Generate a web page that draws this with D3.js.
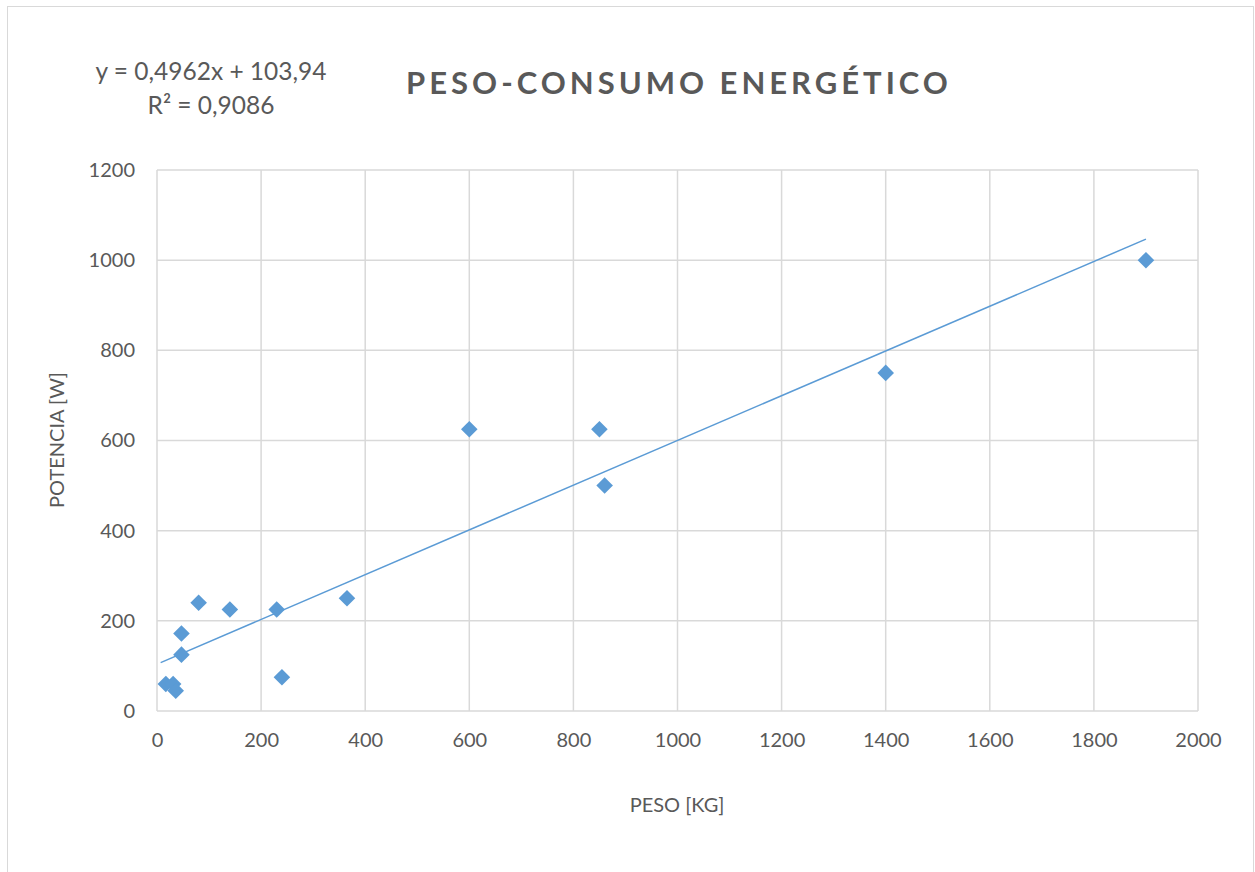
<!DOCTYPE html>
<html>
<head>
  <meta charset="utf-8">
  <script src="https://d3js.org/d3.v7.min.js"></script>
  <style>
    body { margin: 0; background: #fff; }
    svg text { font-family: Lato, "Open Sans", sans-serif; fill: #595959; }
    .grid line { stroke: #d9d9d9; stroke-width: 1.5px; }
    .tick text { font-size: 20px; }
  </style>
</head>
<body>
<svg id="chart" width="1255" height="872"></svg>
<script>
  // data
  var peso = [17, 31, 36, 47, 47, 80, 140, 230, 240, 365, 600, 850, 860, 1400, 1900];
  var potencia = [60, 60, 45, 125, 172, 240, 225, 225, 75, 250, 625, 625, 500, 750, 1000];
  var xTicks = [0, 200, 400, 600, 800, 1000, 1200, 1400, 1600, 1800, 2000];
  var yTicks = [0, 200, 400, 600, 800, 1000, 1200];
  var trendSlope = 0.4962, trendIntercept = 103.94;
  var trendRange = [7, 1900];

  var svg = d3.select("#chart");
  var plot = {left: 157, right: 1198, top: 170, bottom: 711};

  var x = d3.scaleLinear().domain([0, 2000]).range([plot.left, plot.right]);
  var y = d3.scaleLinear().domain([0, 1200]).range([plot.bottom, plot.top]);

  // outer chart border
  svg.append("rect")
      .attr("x", 7.5).attr("y", 6.5)
      .attr("width", 1246).attr("height", 880)
      .attr("fill", "none").attr("stroke", "#d9d9d9");

  // grid
  var grid = svg.append("g").attr("class", "grid");
  grid.selectAll("line.h").data(yTicks).enter().append("line")
      .attr("x1", plot.left).attr("x2", plot.right)
      .attr("y1", function(d) { return y(d); })
      .attr("y2", function(d) { return y(d); });
  grid.selectAll("line.v").data(xTicks).enter().append("line")
      .attr("y1", plot.top).attr("y2", plot.bottom)
      .attr("x1", function(d) { return x(d); })
      .attr("x2", function(d) { return x(d); });

  // axes (labels only)
  svg.append("g")
      .attr("transform", "translate(0," + plot.bottom + ")")
      .call(d3.axisBottom(x).tickValues(xTicks).tickFormat(d3.format("d")).tickSize(0).tickPadding(22))
      .call(function(g) { g.select(".domain").remove(); });
  svg.append("g")
      .attr("transform", "translate(" + plot.left + ",0)")
      .call(d3.axisLeft(y).tickValues(yTicks).tickFormat(d3.format("d")).tickSize(0).tickPadding(22))
      .call(function(g) { g.select(".domain").remove(); });

  // trend line
  svg.append("line")
      .attr("x1", x(trendRange[0]))
      .attr("y1", y(trendSlope * trendRange[0] + trendIntercept))
      .attr("x2", x(trendRange[1]))
      .attr("y2", y(trendSlope * trendRange[1] + trendIntercept))
      .attr("stroke", "#5b9bd5").attr("stroke-width", 1.5);

  // points
  var diamond = d3.symbol().type(d3.symbolDiamond2).size(175);
  svg.append("g").selectAll("path")
      .data(peso)
      .enter().append("path")
      .attr("d", diamond)
      .attr("fill", "#5b9bd5")
      .attr("transform", function(d, i) {
        return "translate(" + x(d) + "," + y(potencia[i]) + ")";
      });

  // titles
  svg.append("text")
      .attr("x", 679).attr("y", 94)
      .attr("text-anchor", "middle")
      .style("font-size", "31px").style("font-weight", "bold")
      .style("letter-spacing", "4px")
      .text("PESO-CONSUMO ENERGÉTICO");

  svg.append("text")
      .attr("x", 211).attr("y", 80)
      .attr("text-anchor", "middle")
      .style("font-size", "24.5px")
      .text("y = 0,4962x + 103,94");
  svg.append("text")
      .attr("x", 211).attr("y", 114)
      .attr("text-anchor", "middle")
      .style("font-size", "24.5px")
      .text("R² = 0,9086");

  svg.append("text")
      .attr("x", 677).attr("y", 812)
      .attr("text-anchor", "middle")
      .style("font-size", "20px")
      .text("PESO [KG]");
  svg.append("text")
      .attr("transform", "translate(64,440) rotate(-90)")
      .attr("text-anchor", "middle")
      .style("font-size", "20px")
      .text("POTENCIA [W]");
</script>
</body>
</html>
